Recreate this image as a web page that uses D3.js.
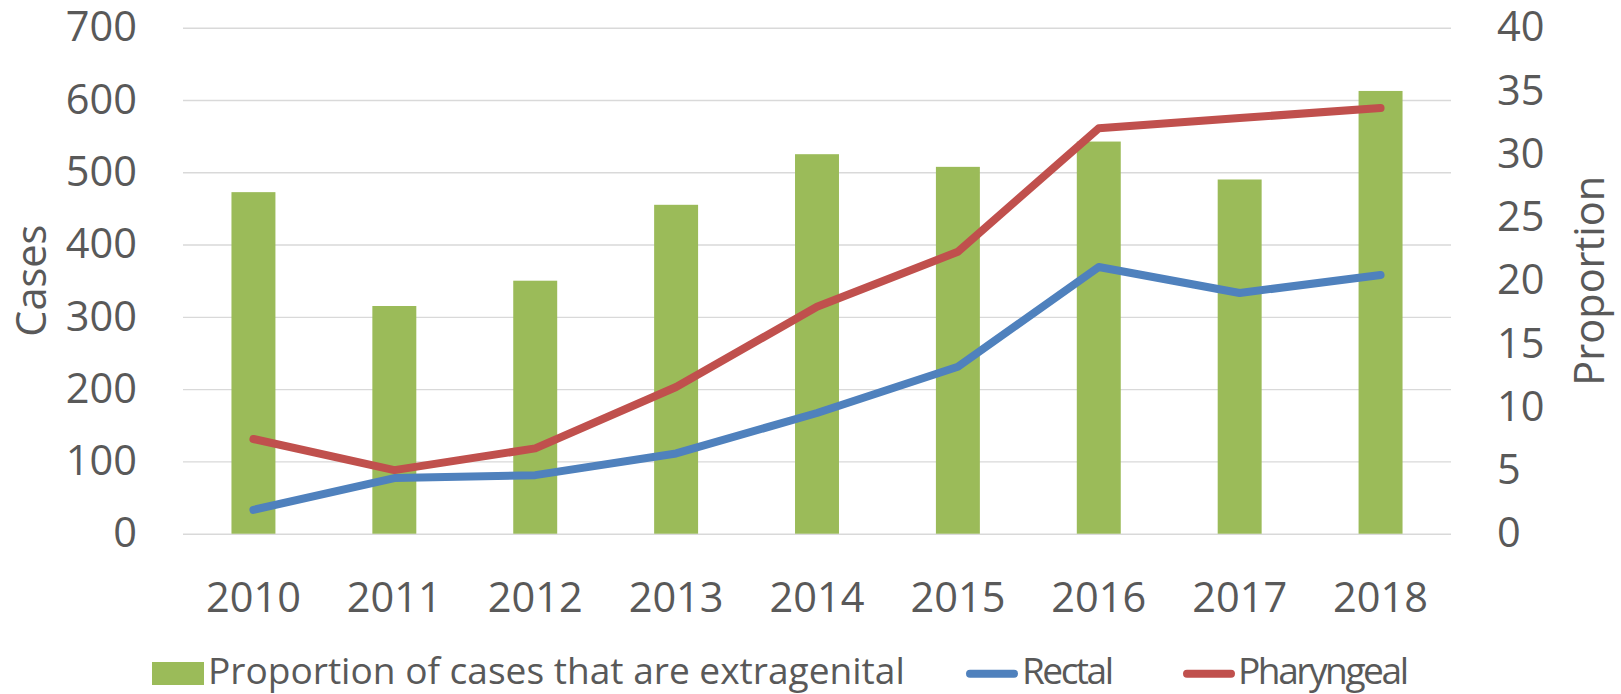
<!DOCTYPE html>
<html>
<head>
<meta charset="utf-8">
<script src="https://cdn.jsdelivr.net/npm/d3@7"></script>
<style>
  html, body { margin: 0; padding: 0; background: #ffffff; }
  svg { display: block; }
  text { font-family: "Open Sans", "Noto Sans", sans-serif; fill: #595959; }
</style>
</head>
<body>
<svg id="chart" width="1621" height="694"></svg>
<script>
// Yearly data
const years = ["2010", "2011", "2012", "2013", "2014", "2015", "2016", "2017", "2018"];
const proportionExtragenital = [27, 18, 20, 26, 30, 29, 31, 28, 35];
const rectalCases = [33, 77, 81, 111, 167, 231, 369, 333, 358];
const pharyngealCases = [131, 88, 118, 203, 314, 390, 561, 575, 589];

// Axis ticks
const casesTicks = [0, 100, 200, 300, 400, 500, 600, 700];
const proportionTicks = [0, 5, 10, 15, 20, 25, 30, 35, 40];

// Legend entries
const legendLabels = ["Proportion of cases that are extragenital", "Rectal", "Pharyngeal"];
const axisTitles = ["Cases", "Proportion"];

const colors = { bar: "#9BBB59", rectal: "#4F81BD", pharyngeal: "#C0504D", grid: "#D9D9D9" };

const svg = d3.select("#chart");
const plot = { left: 183, right: 1451, top: 27.7, bottom: 533.7 };

const x = d3.scaleBand()
  .domain(years)
  .range([plot.left, plot.right])
  .paddingInner(0.688)
  .paddingOuter(0.344);

const yCases = d3.scaleLinear().domain([0, 700]).range([plot.bottom, plot.top]);
const yProp = d3.scaleLinear().domain([0, 40]).range([plot.bottom, plot.top]);

// Font sizing helper: scale so a sample string reaches a target width
function fitSize(sample, targetWidth, base) {
  const t = svg.append("text").attr("font-size", base).text(sample);
  const w = t.node().getComputedTextLength();
  t.remove();
  return base * targetWidth / w;
}
const tickSize = fitSize("2010", 95, 40);
const legendSize = fitSize(legendLabels[0], 697, 30);

// Gridlines
svg.append("g")
  .attr("transform", `translate(${plot.left},0)`)
  .call(d3.axisLeft(yCases).tickValues(casesTicks).tickSize(-(plot.right - plot.left)).tickFormat(""))
  .call(g => g.select(".domain").remove())
  .call(g => g.selectAll("line").attr("stroke", colors.grid).attr("stroke-width", 1.4));

// Bars (right axis)
svg.append("g").selectAll("rect")
  .data(years)
  .join("rect")
  .attr("x", d => x(d))
  .attr("width", x.bandwidth())
  .attr("y", (d, i) => yProp(proportionExtragenital[i]))
  .attr("height", (d, i) => yProp(0) - yProp(proportionExtragenital[i]))
  .attr("fill", colors.bar);

// Lines (left axis)
const line = d3.line()
  .x((d, i) => x(years[i]) + x.bandwidth() / 2)
  .y(d => yCases(d));

[[rectalCases, colors.rectal], [pharyngealCases, colors.pharyngeal]].forEach(([vals, c]) => {
  svg.append("path")
    .datum(vals)
    .attr("d", line)
    .attr("fill", "none")
    .attr("stroke", c)
    .attr("stroke-width", 8)
    .attr("stroke-linejoin", "round")
    .attr("stroke-linecap", "round");
});

// Left axis
svg.append("g")
  .attr("transform", `translate(${plot.left},0)`)
  .call(d3.axisLeft(yCases).tickValues(casesTicks).tickSize(0).tickPadding(46))
  .call(g => g.select(".domain").remove())
  .call(g => g.selectAll("text").attr("font-size", tickSize).attr("font-family", null).attr("fill", "#595959"));

// Right axis
svg.append("g")
  .attr("transform", `translate(${plot.right},0)`)
  .call(d3.axisRight(yProp).tickValues(proportionTicks).tickSize(0).tickPadding(46))
  .call(g => g.select(".domain").remove())
  .call(g => g.selectAll("text").attr("font-size", tickSize).attr("font-family", null).attr("fill", "#595959"));

// Bottom axis
svg.append("g")
  .attr("transform", `translate(0,${plot.bottom})`)
  .call(d3.axisBottom(x).tickSize(0))
  .call(g => g.select(".domain").remove())
  .call(g => g.selectAll("text")
    .attr("font-size", tickSize).attr("font-family", null).attr("fill", "#595959")
    .attr("y", 78).attr("dy", 0));

// Axis titles
const midY = (plot.top + plot.bottom) / 2;
svg.append("text")
  .attr("transform", `translate(30,${midY}) rotate(-90)`)
  .attr("text-anchor", "middle")
  .attr("dominant-baseline", "central")
  .attr("font-size", tickSize)
  .text(axisTitles[0]);
svg.append("text")
  .attr("transform", `translate(1588,${midY}) rotate(-90)`)
  .attr("text-anchor", "middle")
  .attr("dominant-baseline", "central")
  .attr("font-size", tickSize)
  .text(axisTitles[1]);

// Legend
const legend = svg.append("g");
legend.append("rect")
  .attr("x", 152).attr("y", 662).attr("width", 52).attr("height", 23)
  .attr("fill", colors.bar);
legend.append("text").attr("x", 208).attr("y", 684).attr("font-size", legendSize).text(legendLabels[0]);

[[970, 1014, 1022, 92, colors.rectal, legendLabels[1]],
 [1187, 1231, 1238, 171, colors.pharyngeal, legendLabels[2]]]
  .forEach(([x1, x2, tx, len, c, label]) => {
    legend.append("line")
      .attr("x1", x1).attr("x2", x2).attr("y1", 673.7).attr("y2", 673.7)
      .attr("stroke", c).attr("stroke-width", 8).attr("stroke-linecap", "round");
    legend.append("text").attr("x", tx).attr("y", 684).attr("font-size", legendSize)
      .attr("textLength", len).attr("lengthAdjust", "spacing")
      .text(label);
  });
</script>
</body>
</html>
